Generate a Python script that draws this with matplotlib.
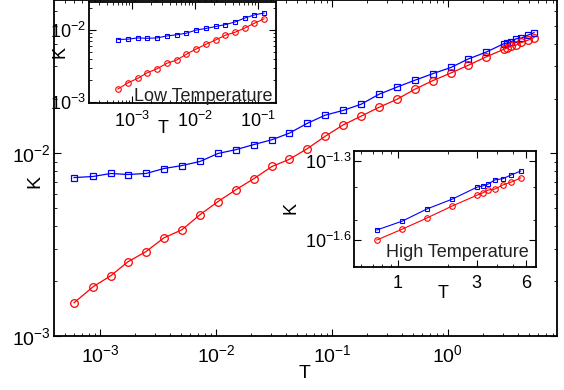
import numpy as np
import matplotlib
matplotlib.use('Agg')
import matplotlib.pyplot as plt
from matplotlib.ticker import NullFormatter, FixedLocator, FixedFormatter

plt.rcParams['font.family'] = ['Liberation Sans', 'DejaVu Sans']
plt.rcParams['mathtext.fontset'] = 'custom'
plt.rcParams['mathtext.rm'] = 'Liberation Sans'
plt.rcParams['mathtext.it'] = 'Liberation Sans'

# temperatures and conductances
T = [5.97e-4, 8.70e-4, 1.24e-3, 1.74e-3, 2.49e-3, 3.56e-3, 5.09e-3, 7.28e-3,
     1.04e-2, 1.49e-2, 2.13e-2, 3.04e-2, 4.26e-2, 6.09e-2, 8.70e-2, 0.124,
     0.178, 0.254, 0.363, 0.519, 0.743, 1.06, 1.49, 2.13,
     3.02, 3.26, 3.53, 3.86, 4.30, 4.86, 5.53]
K_blue = [7.38e-3, 7.48e-3, 7.77e-3, 7.67e-3, 7.77e-3, 8.27e-3, 8.59e-3, 9.04e-3,
          1.00e-2, 1.05e-2, 1.12e-2, 1.19e-2, 1.29e-2, 1.46e-2, 1.62e-2, 1.72e-2,
          1.86e-2, 2.11e-2, 2.31e-2, 2.52e-2, 2.74e-2, 2.96e-2, 3.29e-2, 3.59e-2,
          3.99e-2, 4.03e-2, 4.10e-2, 4.25e-2, 4.29e-2, 4.44e-2, 4.59e-2]
K_red = [1.52e-3, 1.86e-3, 2.14e-3, 2.55e-3, 2.90e-3, 3.45e-3, 3.82e-3, 4.62e-3,
         5.45e-3, 6.34e-3, 7.29e-3, 8.49e-3, 9.27e-3, 1.06e-2, 1.24e-2, 1.43e-2,
         1.60e-2, 1.79e-2, 1.98e-2, 2.25e-2, 2.51e-2, 2.76e-2, 3.04e-2, 3.38e-2,
         3.72e-2, 3.79e-2, 3.89e-2, 3.92e-2, 4.06e-2, 4.17e-2, 4.32e-2]
n_low = 16     # points shown in the low temperature inset
n_high = 11    # points shown in the high temperature inset

T = np.array(T)
K_blue = np.array(K_blue)
K_red = np.array(K_red)


def style(ax, fs):
    ax.set_xscale('log')
    ax.set_yscale('log')
    ax.tick_params(which='both', direction='in', top=True, right=True, labelsize=fs)
    ax.tick_params(which='major', length=5, width=0.8)
    ax.tick_params(which='minor', length=2.5, width=0.6)
    for s in ax.spines.values():
        s.set_linewidth(1.3)


fig = plt.figure(figsize=(5.64, 3.90), dpi=100)

# main plot
ax = fig.add_axes([0.0957, 0.1385, 0.8918, 0.8615])
style(ax, 14)
ax.plot(T, K_blue, '-s', color='b', lw=0.9, ms=4.5, mfc='none', mew=0.9)
ax.plot(T, K_red, '-o', color='r', lw=0.9, ms=5.5, mfc='none', mew=0.9)
ax.set_xlim(10**-3.397, 10**0.94)
ax.set_ylim(1e-3, 10**-1.159)
ax.tick_params(axis='x', pad=6)
ax.tick_params(axis='y', pad=2)
ax.set_xlabel('T', fontsize=14)
ax.set_ylabel('K', fontsize=14)
ax.xaxis.set_label_coords(0.499, -0.085)
ax.yaxis.set_label_coords(-0.022, 0.46)

# low temperature inset
ax1 = fig.add_axes([0.1578, 0.7359, 0.3316, 0.259])
style(ax1, 13)
ax1.plot(T[:n_low], K_blue[:n_low], '-s', color='b', lw=0.8, ms=3.5, mfc='none', mew=0.8)
ax1.plot(T[:n_low], K_red[:n_low], '-o', color='r', lw=0.8, ms=4.0, mfc='none', mew=0.8)
ax1.set_xlim(10**-3.684, 10**-0.715)
ax1.set_ylim(10**-3.013, 10**-1.611)
ax1.tick_params(axis='x', pad=6)
ax1.tick_params(axis='y', pad=2)
ax1.set_xlabel('T', fontsize=13)
ax1.set_ylabel('K', fontsize=13)
ax1.xaxis.set_label_coords(0.396, -0.17)
ax1.yaxis.set_label_coords(-0.107, 0.505)
ax1.text(0.979, 0.02, 'Low Temperature', transform=ax1.transAxes,
         ha='right', va='baseline', fontsize=13, color='#222222')

# high temperature inset
ax2 = fig.add_axes([0.6277, 0.3154, 0.3227, 0.2974])
style(ax2, 13)
ax2.plot(T[-n_high:], K_blue[-n_high:], '-s', color='b', lw=0.8, ms=3.5, mfc='none', mew=0.8)
ax2.plot(T[-n_high:], K_red[-n_high:], '-o', color='r', lw=0.8, ms=4.0, mfc='none', mew=0.8)
ax2.set_xlim(10**-0.267, 10**0.836)
ax2.set_ylim(10**-1.703, 10**-1.262)
ax2.xaxis.set_major_locator(FixedLocator([1, 3, 6]))
ax2.xaxis.set_major_formatter(FixedFormatter(['1', '3', '6']))
ax2.xaxis.set_minor_formatter(NullFormatter())
ax2.yaxis.set_major_locator(FixedLocator([10**-1.6, 10**-1.3]))
ax2.yaxis.set_major_formatter(FixedFormatter([r'$\mathdefault{10^{-1.6}}$', r'$\mathdefault{10^{-1.3}}$']))
ax2.yaxis.set_minor_formatter(NullFormatter())
ax2.tick_params(axis='x', pad=6)
ax2.tick_params(axis='y', pad=2)
ax2.set_xlabel('T', fontsize=13)
ax2.set_ylabel('K', fontsize=13)
ax2.xaxis.set_label_coords(0.489, -0.155)
ax2.yaxis.set_label_coords(-0.297, 0.509)
ax2.text(0.962, 0.086, 'High Temperature', transform=ax2.transAxes,
         ha='right', va='baseline', fontsize=13, color='#222222')

fig.savefig('out.png', dpi=100)
